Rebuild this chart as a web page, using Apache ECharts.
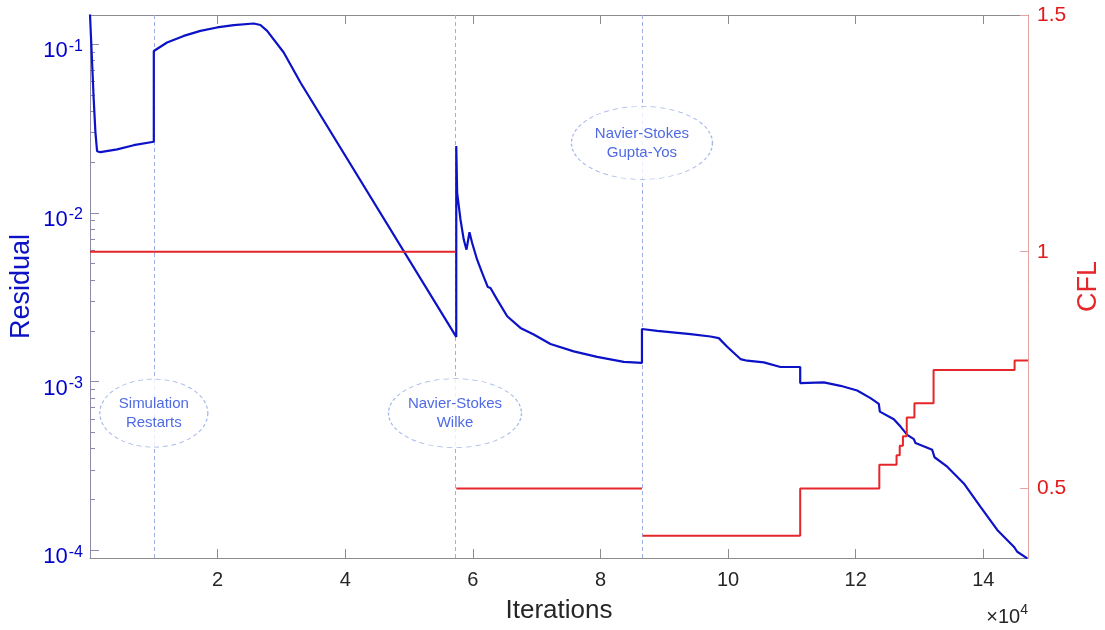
<!DOCTYPE html>
<html>
<head>
<meta charset="utf-8">
<script src="https://cdn.jsdelivr.net/npm/echarts@6/dist/echarts.min.js"></script>
<style>
html, body { margin: 0; padding: 0; background: #fff; }
#chart { width: 1105px; height: 630px; }
</style>
</head>
<body>
<div id="chart"></div>
<script>
// residual history (iterations, residual)
const residualIter = [
    0, 580, 850, 1110, 1630, 4250, 6850, 10000,
    10000, 12080, 14690, 17300, 19920, 22520, 25660, 26710, 27760, 30360, 32980,
    57400, 57400, 57540, 58060, 58570, 59000, 59470, 59890, 60670, 61460, 62330,
    62760, 63810, 65380, 67460, 69540, 72160, 75810, 79480, 83650, 86500,
    86500, 88890, 94110, 97240, 98540, 99860, 101940, 102990, 105600, 108210, 111300,
    111300, 115000, 117620, 120230, 122320, 123620, 123780, 125970, 127020, 128070,
    129110, 129370, 131990, 132350, 134340, 136940, 139560, 142180, 144780, 145310, 146880
];
const residualValue = [
    0.15, 0.0471, 0.030, 0.0232, 0.0229, 0.0238, 0.0252, 0.0264,
    0.0912, 0.1023, 0.112, 0.120, 0.1257, 0.1297, 0.1327, 0.130, 0.120, 0.0893, 0.0593,
    0.00184, 0.0249, 0.01315, 0.00914, 0.00695, 0.00606, 0.00768, 0.00663, 0.00528, 0.00441, 0.00364,
    0.00359, 0.00306, 0.00244, 0.00208, 0.0019, 0.00167, 0.00151, 0.0014, 0.00131, 0.00129,
    0.00205, 0.0020, 0.00191, 0.00185, 0.00181, 0.00161, 0.00136, 0.00133, 0.0013, 0.00122, 0.00122,
    0.00098, 0.00099, 0.000944, 0.000885, 0.000798, 0.000738, 0.000664, 0.000598, 0.000541, 0.000483,
    0.000456, 0.000432, 0.000394, 0.000356, 0.000313, 0.000249, 0.000181, 0.000132, 0.000105, 0.000098, 0.0000896
];

// CFL schedule (null = break in the line)
const cflIter = [
    0, 57200, 57300, 57400, 86500, 86550, 86600, 111300, 111300, 123700, 123700,
    126400, 126400, 126900, 126900, 127400, 127400, 128000, 128000, 129200, 129200,
    132200, 132200, 144900, 144900, 147000
];
const cflValue = [
    1, 1, null, 0.5, 0.5, null, 0.4, 0.4, 0.5, 0.5, 0.55,
    0.55, 0.57, 0.57, 0.59, 0.59, 0.61, 0.61, 0.65, 0.65, 0.68,
    0.68, 0.75, 0.75, 0.77, 0.77
];

// restarts / model switches
const restartIter = [10000, 57200, 86500];
const noteText = ['Simulation\nRestarts', 'Navier-Stokes\nWilke', 'Navier-Stokes\nGupta-Yos'];
const noteIter = [10000, 57200, 86500];
const noteResidual = [0.00065, 0.00065, 0.026];

// ticks
const iterTicks = [20000, 40000, 60000, 80000, 100000, 120000, 140000];
const residualTicks = [1e-4, 1e-3, 1e-2, 1e-1];
const residualMinorTicks = [
    2e-4, 3e-4, 4e-4, 5e-4, 6e-4, 7e-4, 8e-4, 9e-4,
    2e-3, 3e-3, 4e-3, 5e-3, 6e-3, 7e-3, 8e-3, 9e-3,
    2e-2, 3e-2, 4e-2, 5e-2, 6e-2, 7e-2, 8e-2, 9e-2
];
const cflTicks = [0.5, 1, 1.5];


const BLUE = '#0c12c6';
const RED = '#e5262a';
const FONT = '"Liberation Sans", Arial, Helvetica, sans-serif';

const residualData = residualIter.map((x, i) => [x, residualValue[i]]);
const cflData = cflIter.map((x, i) => [x, cflValue[i] === null ? '-' : cflValue[i]]);

const ellipseSize = [[108, 68], [133, 69], [141, 73]];
const noteData = noteIter.map((x, i) => ({
    value: [x, noteResidual[i]],
    name: noteText[i],
    symbolSize: ellipseSize[i]
}));

const chart = echarts.init(document.getElementById('chart'));

chart.setOption({
    animation: false,
    textStyle: { fontFamily: FONT },
    grid: { left: 90, right: 77, top: 15, bottom: 72, outerBoundsMode: 'none' },

    xAxis: [
        {
            type: 'value',
            position: 'bottom',
            min: 0,
            max: 147000,
            name: 'Iterations',
            nameLocation: 'middle',
            nameGap: 40,
            nameMoveOverlap: false,
            nameTextStyle: { fontSize: 26, color: '#262626', fontFamily: FONT },
            axisLine: { show: true, onZero: false, lineStyle: { color: '#8c8c8c', width: 1 } },
            axisTick: { show: true, inside: true, length: 9, customValues: iterTicks, lineStyle: { color: '#8c8c8c' } },
            axisLabel: {
                customValues: iterTicks,
                formatter: v => String(v / 10000),
                fontSize: 20,
                color: '#262626',
                margin: 12,
                fontFamily: FONT
            },
            splitLine: { show: false }
        },
        {
            type: 'value',
            position: 'top',
            min: 0,
            max: 147000,
            axisLine: { show: true, onZero: false, lineStyle: { color: '#8c8c8c', width: 1 } },
            axisTick: { show: true, inside: true, length: 9, customValues: iterTicks, lineStyle: { color: '#8c8c8c' } },
            axisLabel: { show: false },
            splitLine: { show: false }
        }
    ],

    yAxis: [
        {
            type: 'log',
            logBase: 10,
            position: 'left',
            min: 0.00009,
            max: 0.149,
            name: 'Residual',
            nameLocation: 'middle',
            nameGap: 55,
            nameMoveOverlap: false,
            nameTextStyle: { fontSize: 27, color: BLUE, fontFamily: FONT },
            axisLine: { show: true, onZero: false, lineStyle: { color: '#8a8aa8', width: 1 } },
            axisTick: { show: true, inside: true, length: 9, customValues: residualTicks, lineStyle: { color: '#8a8aa8' } },
            axisLabel: {
                customValues: residualTicks,
                margin: 7,
                padding: [12, 0, 0, 0],
                formatter: v => '{b|10}{s|-' + Math.abs(Math.round(Math.log10(v))) + '}',
                rich: {
                    b: { fontSize: 22, color: '#0000cc', fontFamily: FONT, lineHeight: 24, verticalAlign: 'bottom' },
                    s: { fontSize: 16, color: '#0000cc', fontFamily: FONT, lineHeight: 16, verticalAlign: 'top', padding: [0, 0, 0, 1] }
                }
            },
            splitLine: { show: false }
        },
        {
            type: 'value',
            position: 'right',
            min: 0.353,
            max: 1.5,
            name: 'CFL',
            nameLocation: 'middle',
            nameGap: 47,
            nameMoveOverlap: false,
            nameTextStyle: { fontSize: 27, color: RED, fontFamily: FONT },
            axisLine: { show: true, onZero: false, lineStyle: { color: '#e8a4a4', width: 1 } },
            axisTick: { show: true, inside: true, length: 8, customValues: cflTicks, lineStyle: { color: '#e8a4a4' } },
            axisLabel: {
                customValues: cflTicks,
                formatter: v => String(v),
                fontSize: 21,
                color: '#e21a1a',
                margin: 9,
                fontFamily: FONT
            },
            splitLine: { show: false }
        },
        {
            // minor ticks of the log axis
            type: 'log',
            logBase: 10,
            position: 'left',
            min: 0.00009,
            max: 0.149,
            axisLine: { show: false },
            axisTick: { show: true, inside: true, length: 5, customValues: residualMinorTicks, lineStyle: { color: '#8a8aa8' } },
            axisLabel: { show: false },
            splitLine: { show: false }
        }
    ],

    graphic: [
        {
            type: 'text',
            right: 77,
            top: 603,
            style: {
                text: '{a|\u00d710}{b|4}',
                rich: {
                    a: { fontSize: 20, fill: '#262626', fontFamily: FONT, lineHeight: 24, verticalAlign: 'bottom' },
                    b: { fontSize: 14, fill: '#262626', fontFamily: FONT, lineHeight: 14, verticalAlign: 'top' }
                }
            }
        }
    ],

    series: [
        {
            name: 'Residual',
            type: 'line',
            xAxisIndex: 0,
            yAxisIndex: 0,
            data: residualData,
            showSymbol: false,
            symbol: 'none',
            clip: true,
            silent: true,
            z: 3,
            lineStyle: { color: BLUE, width: 2.2 }
        },
        {
            name: 'CFL',
            type: 'line',
            xAxisIndex: 0,
            yAxisIndex: 1,
            data: cflData,
            showSymbol: false,
            symbol: 'none',
            connectNulls: false,
            clip: true,
            silent: true,
            z: 4,
            lineStyle: { color: RED, width: 2 }
        },
        {
            name: 'notes',
            type: 'scatter',
            xAxisIndex: 0,
            yAxisIndex: 0,
            data: noteData,
            symbol: 'circle',
            silent: true,
            z: 10,
            itemStyle: {
                color: '#ffffff',
                borderColor: '#8ea6e2',
                borderWidth: 1,
                borderType: [4, 3]
            },
            label: {
                show: true,
                position: 'inside',
                formatter: p => p.name,
                color: '#2244dd',
                fontSize: 15,
                lineHeight: 19,
                fontFamily: FONT
            },
            emphasis: { disabled: true },
            markLine: {
                silent: true,
                z: 1,
                symbol: ['none', 'none'],
                label: { show: false },
                lineStyle: { color: '#9db1e8', width: 1, type: [4, 3] },
                data: restartIter.map(x => ({ xAxis: x }))
            }
        }
    ]
});
</script>
</body>
</html>
